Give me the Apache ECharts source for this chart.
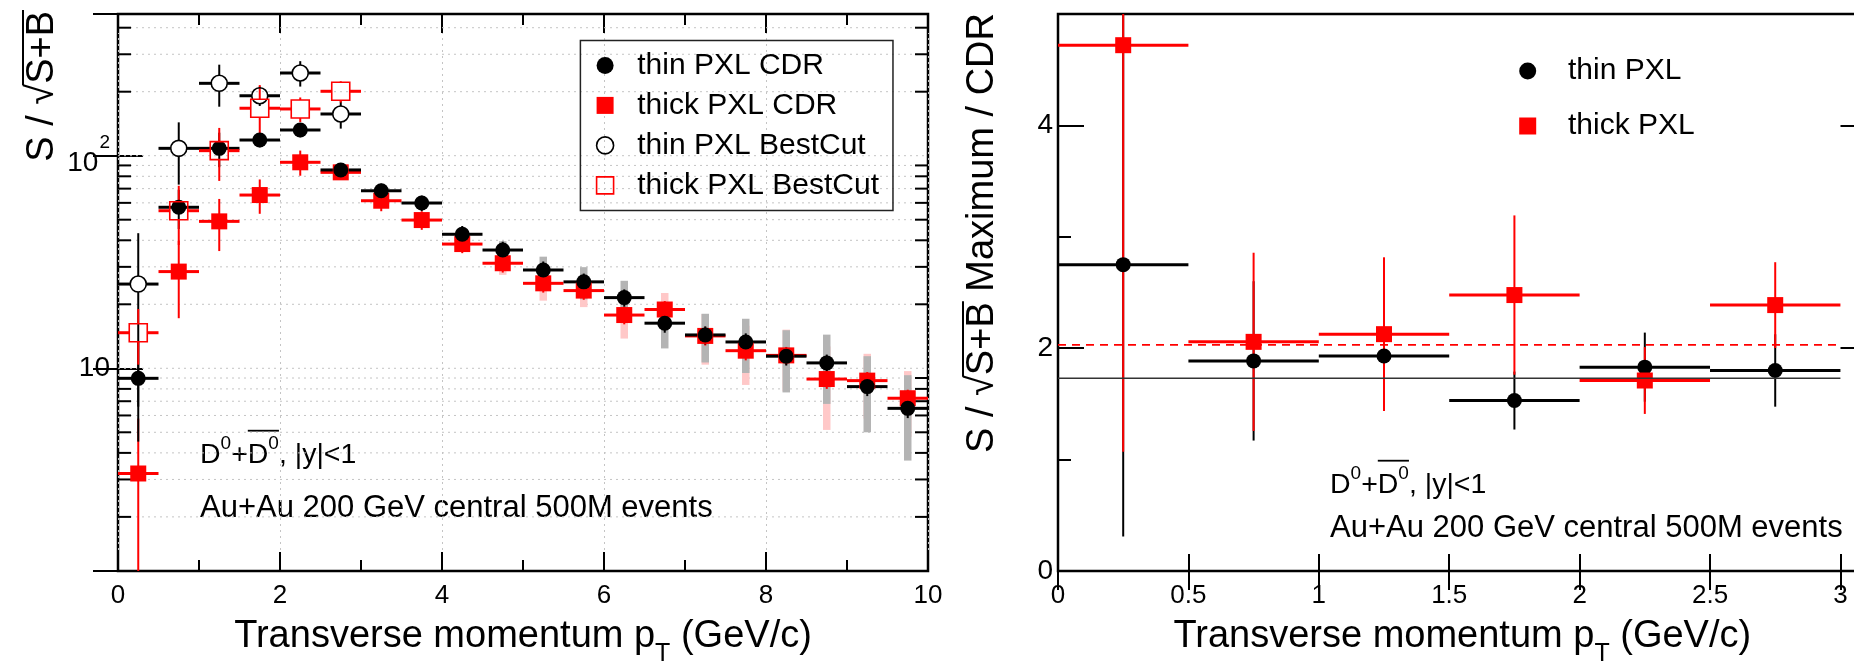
<!DOCTYPE html>
<html><head><meta charset="utf-8">
<script src="https://cdn.jsdelivr.net/npm/echarts@6/dist/echarts.min.js"></script>
<style>html,body{margin:0;padding:0;background:#fff}#c{width:1854px;height:662px}</style>
</head><body><div id="c"></div>
<script>
// ---------------- DATA ----------------
const HALF_BIN = 0.25;
const binCenters = [0.25,0.75,1.25,1.75,2.25,2.75,3.25,3.75,4.25,4.75,5.25,5.75,6.25,6.75,7.25,7.75,8.25,8.75,9.25,9.75];
const thinCDR    = [8.97,57.2,108.3,118.5,132.1,85.7,68.4,59.9,42.7,36.0,29.0,25.5,21.5,16.3,14.35,13.3,11.4,10.6,8.2,6.48];
const thinCDRErr = [4.45,12,20,9,10,6,5.5,5,4,3.4,2.8,2.4,2.0,1.6,1.4,1.3,1.1,1.0,0.8,0.65];
const thickCDR    = [3.2,28.5,49.1,65.3,93.1,83.5,61.4,49.8,38.4,31.2,25.1,23.2,17.8,18.9,14.2,12.1,11.5,8.9,8.75,7.23];
const thickCDRErr = [2.6,11.3,13.5,12,12.6,6,6.6,5,3.6,3.0,2.4,2.2,1.7,1.8,1.4,1.2,1.1,0.9,0.85,0.7];
const sysFirstBin = 8; // systematic bands start at 4.25 GeV/c
const thinSysErr  = [2.0,3.6,4.5,4.4,4.3,3.9,3.7,3.8,3.7,3.8,3.2,2.8];
const thickSysErr = [2.0,3.7,4.3,3.8,4.0,3.7,3.8,3.75,3.7,3.77,2.95,2.47];
const bestCutCenters = [0.25,0.75,1.25,1.75,2.25,2.75];
const thinBest     = [24.9,108.3,219,191.4,244.9,157.1];
const thinBestErr  = [18.3,35.2,49,20,33.5,23];
const thickBest    = [14.7,55.1,105.6,167.2,165.9,200.9];
const thickBestErr = [4.3,17.1,29.5,47.6,22,23];
const yMajorTicks = [10,100];
const yMinorTicks = [2,3,4,5,6,7,8,9,20,30,40,50,60,70,80,90,200,300,400];

const ratioCenters  = [0.25,0.75,1.25,1.75,2.25,2.75];
const thinRatio     = [2.75,1.886,1.93,1.53,1.83,1.80];
const thinRatioErr  = [2.44,0.715,0.45,0.26,0.31,0.325];
const thickRatio    = [4.72,2.057,2.126,2.477,1.71,2.387];
const thickRatioErr = [3.65,0.80,0.69,0.715,0.30,0.385];
const thinMean = 1.73, thickMean = 2.03;
const meanRange = [0, 3];

// ---------------- helpers ----------------
const FF = "'Liberation Sans', Arial, Helvetica, sans-serif";
const LYMIN = 1.113, LYMAX = 464;
const mctx = document.createElement('canvas').getContext('2d');
function fnt(s){ return s + 'px ' + FF; }
function tw(t, s){ mctx.font = fnt(s); mctx.textBaseline='alphabetic'; return mctx.measureText(t).width; }
function midToBase(s){ mctx.font = fnt(s); mctx.textBaseline='middle'; const d = mctx.measureText('H').actualBoundingBoxDescent; mctx.textBaseline='alphabetic'; return d; }
function asc(t, s){ mctx.font = fnt(s); mctx.textBaseline='alphabetic'; return mctx.measureText(t).actualBoundingBoxAscent; }
function runText(x0, base, pieces){
  let x = x0; const els = []; const pos = [];
  for (const p of pieces){
    const w = tw(p.t, p.s);
    els.push({type:'text', x:x, y: base + (p.dy||0) - midToBase(p.s), silent:true,
      style:{text:p.t, font:fnt(p.s), fill:'#000', align:'left', verticalAlign:'middle', textAlign:'left', textVerticalAlign:'middle'}});
    pos.push([x, x+w]); x += w;
  }
  return {els, pos, end:x};
}
function widthOf(pieces){ return pieces.reduce((a,p)=>a+tw(p.t,p.s),0); }

function errData(xs, vs, es, minV){
  return xs.map((x,i)=>{ let lo = vs[i]-es[i]; if (minV!=null && lo<=minV) lo = minV; return [x, vs[i], lo, vs[i]+es[i]]; });
}
function errRenderer(color, gap, vw, hw){
  return function(params, api){
    const x=api.value(0), v=api.value(1), lo=api.value(2), hi=api.value(3);
    const c=api.coord([x,v]), a=api.coord([x,hi]), b=api.coord([x,lo]);
    const l=api.coord([x-HALF_BIN,v]), r=api.coord([x+HALF_BIN,v]);
    const vs={stroke:color, lineWidth:vw}, hs={stroke:color, lineWidth:hw};
    const ch=[];
    if (a[1] < c[1]-gap) ch.push({type:'line', shape:{x1:c[0],y1:c[1]-gap,x2:c[0],y2:a[1]}, style:vs});
    if (b[1] > c[1]+gap) ch.push({type:'line', shape:{x1:c[0],y1:c[1]+gap,x2:c[0],y2:b[1]}, style:vs});
    ch.push({type:'line', shape:{x1:l[0],y1:c[1],x2:c[0]-gap,y2:c[1]}, style:hs});
    ch.push({type:'line', shape:{x1:c[0]+gap,y1:c[1],x2:r[0],y2:c[1]}, style:hs});
    return {type:'group', children:ch};
  };
}
function bandRenderer(color, w){
  return function(params, api){
    const x=api.value(0), lo=api.value(2), hi=api.value(3);
    const a=api.coord([x,hi]), b=api.coord([x,lo]);
    return {type:'rect', shape:{x:a[0]-w/2, y:a[1], width:w, height:b[1]-a[1]}, style:{fill:color}};
  };
}
function yGridRenderer(params, api){
  const cs = params.coordSys;
  const v = api.value(1), major = api.value(2);
  const y = api.coord([1, v])[1];
  const ch = [{type:'line', shape:{x1:cs.x, y1:y, x2:cs.x+cs.width, y2:y}, style:{stroke:'#c4c4c4', lineWidth:1, lineDash:[2,4]}}];
  if (!major){
    ch.push({type:'line', shape:{x1:cs.x, y1:y, x2:cs.x+13, y2:y}, style:{stroke:'#000', lineWidth:2}});
    ch.push({type:'line', shape:{x1:cs.x+cs.width-13, y1:y, x2:cs.x+cs.width, y2:y}, style:{stroke:'#000', lineWidth:2}});
  }
  return {type:'group', children:ch};
}

const tickStyle = {color:'#000', width:2};
const lblBase = {color:'#000', fontFamily:FF};

// ---------------- text graphics ----------------
const graphics = [];
function addXTitle(cx, base){
  const pieces = [{t:'Transverse momentum p', s:38},{t:'T', s:25, dy:14},{t:' (GeV/c)', s:38}];
  const w = widthOf(pieces);
  graphics.push(...runText(cx - w/2, base, pieces).els);
}
function addYTitle(bx, by, extra){
  const pieces = [{t:'S / \u221A', s:38},{t:'S+B', s:38}];
  if (extra) pieces.push({t:extra, s:38});
  const r = runText(0, 0, pieces);
  const oy = -asc('\u221A', 38) + 1;
  r.els.push({type:'line', silent:true, shape:{x1:r.pos[0][1]-1.5, y1:oy, x2:r.pos[1][1]+1, y2:oy}, style:{stroke:'#000', lineWidth:2}});
  graphics.push({type:'group', x:bx, y:by, rotation:Math.PI/2, children:r.els});
}
function addAnnot(x, base1, base2){
  const r = runText(x, base1, [{t:'D',s:28.5},{t:'0',s:19,dy:-14.5},{t:'+',s:28.5},{t:'D',s:28.5},{t:'0',s:19,dy:-14.5},{t:', |y|<1',s:28.5}]);
  graphics.push(...r.els);
  graphics.push({type:'line', silent:true, shape:{x1:r.pos[3][0], y1:base1-32.6, x2:r.pos[4][1], y2:base1-32.6}, style:{stroke:'#000', lineWidth:1.8}});
  graphics.push(...runText(x, base2, [{t:'Au+Au 200 GeV central 500M events', s:31}]).els);
}
addXTitle(523, 646.7);
addXTitle(1462.3, 646.7);
addYTitle(53, 161.7);
addYTitle(993, 453, ' Maximum / CDR');
addAnnot(200, 463.3, 516.5);
addAnnot(1330, 493.3, 536.7);

// ---------------- option ----------------
const sysCenters = binCenters.slice(sysFirstBin);
const thinSysData  = sysCenters.map((x,i)=>[x, thinCDR[sysFirstBin+i], thinCDR[sysFirstBin+i]-thinSysErr[i], thinCDR[sysFirstBin+i]+thinSysErr[i]]);
const thickSysData = sysCenters.map((x,i)=>[x, thickCDR[sysFirstBin+i], thickCDR[sysFirstBin+i]-thickSysErr[i], thickCDR[sysFirstBin+i]+thickSysErr[i]]);
const yGridData = yMinorTicks.map(v=>[1,v,0]).concat(yMajorTicks.map(v=>[1,v,1]));

const L = {xAxisIndex:0, yAxisIndex:0};
const R = {xAxisIndex:2, yAxisIndex:2};
const open = {color:'rgba(0,0,0,0)', borderWidth:1.6, opacity:1};

const option = {
  animation:false,
  backgroundColor:'#fff',
  grid:[
    {left:118, top:14, width:810, height:557, show:true, borderColor:'#000', borderWidth:2.5, backgroundColor:'transparent', outerBoundsMode:'none', containLabel:false},
    {left:1058, top:14, width:808.5, height:557, show:true, borderColor:'#000', borderWidth:2.5, backgroundColor:'transparent', outerBoundsMode:'none', containLabel:false}
  ],
  xAxis:[
    {type:'value', gridIndex:0, position:'bottom', min:0, max:10, interval:2,
     axisLine:{show:false}, axisTick:{inside:true, length:19, lineStyle:tickStyle},
     minorTick:{show:true, splitNumber:2, length:11, lineStyle:tickStyle},
     axisLabel:Object.assign({fontSize:26, margin:12}, lblBase),
     splitLine:{show:true, lineStyle:{color:'#c4c4c4', width:1, type:[2,4]}}},
    {type:'value', gridIndex:0, position:'top', min:0, max:10, interval:2,
     axisLine:{show:false}, axisTick:{inside:true, length:19, lineStyle:tickStyle},
     minorTick:{show:true, splitNumber:2, length:11, lineStyle:tickStyle},
     axisLabel:{show:false}, splitLine:{show:false}},
    {type:'value', gridIndex:1, position:'bottom', min:0, max:3.1, interval:0.5,
     axisLine:{show:false}, axisTick:{inside:true, length:17, lineStyle:tickStyle},
     axisLabel:Object.assign({fontSize:26, margin:12, formatter:v=>Math.abs(v*2-Math.round(v*2))<1e-6 ? String(+v.toFixed(1)) : ''}, lblBase),
     splitLine:{show:false}},
    {type:'value', gridIndex:1, position:'top', min:0, max:3.1, interval:0.5,
     axisLine:{show:false}, axisTick:{inside:true, length:19, lineStyle:tickStyle},
     axisLabel:{show:false}, splitLine:{show:false}}
  ],
  yAxis:[
    {type:'log', logBase:10, gridIndex:0, position:'left', min:LYMIN, max:LYMAX,
     axisLine:{show:false}, axisTick:{inside:true, length:25, lineStyle:tickStyle},
     splitLine:{show:false},
     axisLabel:Object.assign({margin:8,
       formatter:v=>Math.abs(v-100)<1e-6 ? '{m|10}{s|2}' : (Math.abs(v-10)<1e-6 ? '{m0|10}' : ''),
       rich:{m:{fontSize:28, lineHeight:44, verticalAlign:'bottom', padding:[14,0,0,0], fontFamily:FF, color:'#000'},
             s:{fontSize:19, verticalAlign:'top', padding:[0,0,0,1], fontFamily:FF, color:'#000'},
             m0:{fontSize:28, lineHeight:28, fontFamily:FF, color:'#000'}}}, lblBase)},
    {type:'log', logBase:10, gridIndex:0, position:'right', min:LYMIN, max:LYMAX,
     axisLine:{show:false}, axisTick:{inside:true, length:25, lineStyle:tickStyle},
     splitLine:{show:false}, axisLabel:{show:false}},
    {type:'value', gridIndex:1, position:'left', min:0, max:5, interval:2,
     axisLine:{show:false}, axisTick:{inside:true, length:26, lineStyle:tickStyle}, splitLine:{show:false},
     axisLabel:Object.assign({fontSize:28, margin:5, formatter:v=>(v%2===0 ? String(v) : '')}, lblBase)},
    {type:'value', gridIndex:1, position:'left', min:0, max:5, interval:1,
     axisLine:{show:false}, axisTick:{inside:true, length:13, lineStyle:tickStyle}, splitLine:{show:false}, axisLabel:{show:false}},
    {type:'value', gridIndex:1, position:'right', min:0, max:5, interval:2,
     axisLine:{show:false}, axisTick:{inside:true, length:26, lineStyle:tickStyle}, splitLine:{show:false}, axisLabel:{show:false}}
  ],
  legend:[
    {left:580.4, top:40.4, orient:'vertical', padding:[10,14,10,15.4], borderColor:'#222', borderWidth:1.5,
     itemGap:10, itemWidth:17, itemHeight:17, selectedMode:false,
     textStyle:{fontSize:30, lineHeight:30, color:'#000', fontFamily:FF, padding:[0,0,0,18.6]},
     data:[
       {name:'thin PXL CDR', icon:'circle', itemStyle:{color:'#000', opacity:1}},
       {name:'thick PXL CDR', icon:'rect', itemStyle:{color:'#f00', opacity:1}},
       {name:'thin PXL BestCut', icon:'circle', itemStyle:{color:'rgba(0,0,0,0)', borderColor:'#000', borderWidth:1.6, opacity:1}},
       {name:'thick PXL BestCut', icon:'rect', itemStyle:{color:'rgba(0,0,0,0)', borderColor:'#f00', borderWidth:1.6, opacity:1}}
     ]},
    {left:1519.2, top:56, orient:'vertical', padding:0, itemGap:25, itemWidth:17, itemHeight:17, selectedMode:false,
     textStyle:{fontSize:30, lineHeight:30, color:'#000', fontFamily:FF, padding:[0,0,0,26.8]},
     data:[{name:'thin PXL', icon:'circle', itemStyle:{color:'#000', opacity:1}},{name:'thick PXL', icon:'rect', itemStyle:{color:'#f00', opacity:1}}]}
  ],
  graphic:{elements:graphics},
  series:[
    Object.assign({type:'custom', renderItem:yGridRenderer, data:yGridData, silent:true, clip:false}, L),
    Object.assign({type:'custom', renderItem:bandRenderer('#ffc8c8', 7.5), data:thickSysData, silent:true, clip:true}, L),
    Object.assign({type:'custom', renderItem:bandRenderer('#b4b4b4', 7.5), data:thinSysData, silent:true, clip:true}, L),
    Object.assign({type:'custom', renderItem:errRenderer('#f00',0,2,3), data:errData(binCenters, thickCDR, thickCDRErr, LYMIN), silent:true, clip:true}, L),
    Object.assign({type:'scatter', name:'thick PXL CDR', symbol:'rect', symbolSize:16, itemStyle:{color:'#f00', opacity:1}, data:binCenters.map((x,i)=>[x,thickCDR[i]]), silent:true}, L),
    Object.assign({type:'custom', renderItem:errRenderer('#000',0,2,3), data:errData(binCenters, thinCDR, thinCDRErr, LYMIN), silent:true, clip:true}, L),
    Object.assign({type:'scatter', name:'thin PXL CDR', symbol:'circle', symbolSize:15, itemStyle:{color:'#000', opacity:1}, data:binCenters.map((x,i)=>[x,thinCDR[i]]), silent:true}, L),
    Object.assign({type:'custom', renderItem:errRenderer('#000',8,2,3), data:errData(bestCutCenters, thinBest, thinBestErr, LYMIN), silent:true, clip:true}, L),
    Object.assign({type:'scatter', name:'thin PXL BestCut', symbol:'circle', symbolSize:16, itemStyle:Object.assign({borderColor:'#000'}, open), data:bestCutCenters.map((x,i)=>[x,thinBest[i]]), silent:true}, L),
    Object.assign({type:'custom', renderItem:errRenderer('#f00',9,2,3), data:errData(bestCutCenters, thickBest, thickBestErr, LYMIN), silent:true, clip:true}, L),
    Object.assign({type:'scatter', name:'thick PXL BestCut', symbol:'rect', symbolSize:18, itemStyle:Object.assign({borderColor:'#f00'}, open), data:bestCutCenters.map((x,i)=>[x,thickBest[i]]), silent:true}, L),

    Object.assign({type:'line', symbol:'none', data:meanRange.map(x=>[x,thinMean]), lineStyle:{color:'#333', width:1.6}, silent:true}, R),
    Object.assign({type:'line', symbol:'none', data:meanRange.map(x=>[x,thickMean]), lineStyle:{color:'#f00', width:1.6, type:[8,6]}, silent:true}, R),
    Object.assign({type:'custom', renderItem:errRenderer('#000',0,2,3), data:errData(ratioCenters, thinRatio, thinRatioErr, 0), silent:true, clip:true}, R),
    Object.assign({type:'scatter', name:'thin PXL', symbol:'circle', symbolSize:15, itemStyle:{color:'#000', opacity:1}, data:ratioCenters.map((x,i)=>[x,thinRatio[i]]), silent:true}, R),
    Object.assign({type:'custom', renderItem:errRenderer('#f00',0,2,3), data:errData(ratioCenters, thickRatio, thickRatioErr, 0), silent:true, clip:true}, R),
    Object.assign({type:'scatter', name:'thick PXL', symbol:'rect', symbolSize:16, itemStyle:{color:'#f00', opacity:1}, data:ratioCenters.map((x,i)=>[x,thickRatio[i]]), silent:true}, R)
  ]
};
const chart = echarts.init(document.getElementById('c'), null, {renderer:'canvas'});
chart.setOption(option);
</script>
</body></html>
